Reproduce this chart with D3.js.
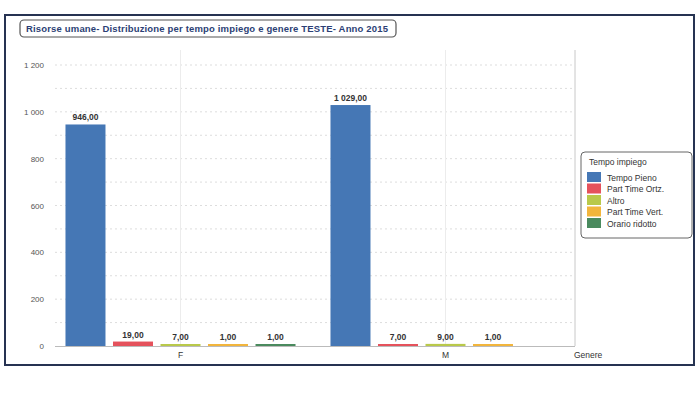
<!DOCTYPE html>
<html>
<head>
<meta charset="utf-8">
<script src="https://cdn.jsdelivr.net/npm/d3@7.9.0/dist/d3.min.js"></script>
<style>
  body { margin: 0; background: #fff; }
  svg { font-family: "Liberation Sans", Arial, sans-serif; }
</style>
</head>
<body>
<svg width="697" height="403"></svg>
<script>
// data
const generi = ['F', 'M'];
const tempi = ['Tempo Pieno', 'Part Time Ortz.', 'Altro', 'Part Time Vert.', 'Orario ridotto'];
const valoriF = [946, 19, 7, 1, 1];
const valoriM = [1029, 7, 9, 1, null];
const colori = ['#4577b5', '#e5525c', '#b9c94a', '#f2b53c', '#4a8a5e'];
const yTicks = [0, 200, 400, 600, 800, 1000, 1200];

const svg = d3.select('svg');

// outer frame
svg.append('rect')
  .attr('x', 5).attr('y', 15).attr('width', 689).attr('height', 350)
  .attr('fill', '#fff').attr('stroke', '#263352').attr('stroke-width', 2);

// title box
svg.append('rect')
  .attr('x', 20).attr('y', 20).attr('width', 376).attr('height', 17).attr('rx', 4)
  .attr('fill', '#fff').attr('stroke', '#555').attr('stroke-width', 1.2);
svg.append('text')
  .attr('x', 26).attr('y', 32)
  .attr('font-size', 9.5).attr('font-weight', 'bold').attr('fill', '#2c3f75')
  .attr('textLength', 362).attr('lengthAdjust', 'spacing')
  .text('Risorse umane- Distribuzione per tempo impiego e genere TESTE- Anno 2015');

const y = d3.scaleLinear().domain([0, 1200]).range([346, 65]);
const x0 = d3.scaleBand().domain(generi).range([48, 578]);
const x1 = d3.scaleBand().domain(tempi).range([0, x0.bandwidth()])
  .paddingInner(0.158).paddingOuter(0.368);

const plotTop = 50, plotRight = 575;

// grid every 100
d3.range(100, 1300, 100).forEach(v => {
  if (y(v) < plotTop) return;
  svg.append('line')
    .attr('x1', 55).attr('x2', plotRight)
    .attr('y1', y(v)).attr('y2', y(v))
    .attr('stroke', '#ddd').attr('stroke-width', 1)
    .attr('stroke-dasharray', '2,3');
});
generi.forEach(g => {
  const cx = x0(g) + x0.bandwidth() / 2;
  svg.append('line')
    .attr('x1', cx).attr('x2', cx).attr('y1', plotTop).attr('y2', 346)
    .attr('stroke', '#ececec').attr('stroke-width', 1);
});
svg.append('line')
  .attr('x1', plotRight).attr('x2', plotRight).attr('y1', plotTop).attr('y2', 346)
  .attr('stroke', '#c8c8c8');

// y axis labels
const fmt = d3.formatLocale({ decimal: ',', thousands: '\u2009', grouping: [3] });
const fmtInt = v => fmt.format(',d')(v).replace('\u2009', ' ');
const fmtDec = v => fmt.format(',.2f')(v).replace('\u2009', ' ');

const yAxis = d3.axisLeft(y).tickValues(yTicks).tickSize(0).tickFormat(fmtInt);
svg.append('g').attr('transform', 'translate(47,0)').call(yAxis)
  .call(g => g.select('.domain').remove())
  .selectAll('text').attr('font-size', 8).attr('fill', '#555')
  .attr('font-family', '"Liberation Sans", Arial, sans-serif');

// bars
const serie = { F: valoriF, M: valoriM };
generi.forEach(g => {
  const gg = svg.append('g').attr('transform', `translate(${x0(g)},0)`);
  serie[g].forEach((v, i) => {
    if (v == null) return;
    const h = Math.max(y(0) - y(v), 2);
    gg.append('rect')
      .attr('x', x1(tempi[i])).attr('y', y(0) - h)
      .attr('width', x1.bandwidth()).attr('height', h)
      .attr('fill', colori[i]);
    gg.append('text')
      .attr('x', x1(tempi[i]) + x1.bandwidth() / 2)
      .attr('y', y(0) - h - 4)
      .attr('text-anchor', 'middle')
      .attr('font-size', 8.5).attr('font-weight', 'bold').attr('fill', '#333')
      .text(fmtDec(v));
  });
});

// baseline
svg.append('line')
  .attr('x1', 55).attr('x2', plotRight).attr('y1', 346.5).attr('y2', 346.5)
  .attr('stroke', '#bbb');

// x labels
generi.forEach(g => {
  svg.append('text')
    .attr('x', x0(g) + x0.bandwidth() / 2).attr('y', 358)
    .attr('text-anchor', 'middle').attr('font-size', 8.5).attr('fill', '#333')
    .text(g);
});
svg.append('text')
  .attr('x', 574).attr('y', 358).attr('font-size', 8.5).attr('fill', '#333')
  .text('Genere');

// legend
const lg = svg.append('g');
lg.append('rect')
  .attr('x', 581).attr('y', 152).attr('width', 111).attr('height', 86).attr('rx', 4)
  .attr('fill', '#fff').attr('stroke', '#666');
lg.append('text')
  .attr('x', 589).attr('y', 165).attr('font-size', 8.5).attr('fill', '#333')
  .text('Tempo impiego');
tempi.forEach((t, i) => {
  const ly = 172 + i * 11.5;
  lg.append('rect')
    .attr('x', 587).attr('y', ly).attr('width', 14).attr('height', 10)
    .attr('fill', colori[i]);
  lg.append('text')
    .attr('x', 607).attr('y', ly + 8.5).attr('font-size', 8.5).attr('fill', '#333')
    .text(t);
});
</script>
</body>
</html>
